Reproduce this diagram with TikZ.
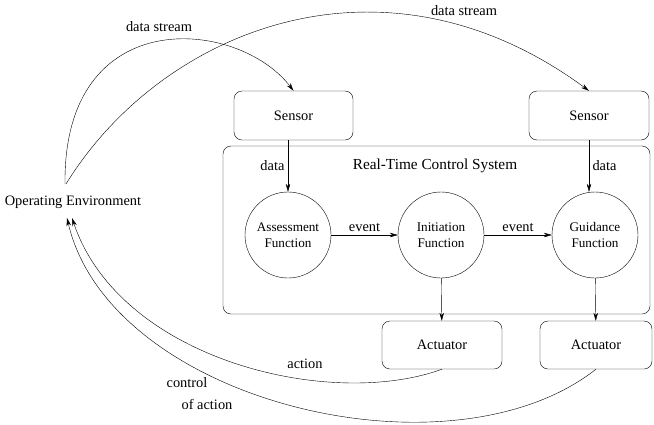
\documentclass[tikz,border=0pt]{standalone}
\usepackage{fontspec}
\setmainfont{Liberation Serif}
\usetikzlibrary{arrows.meta}

\tikzset{
	box/.style={draw, rounded corners=8pt, minimum height=48pt, inner sep=0pt},
	func/.style={draw, circle, minimum size=86pt, inner sep=0pt, align=center, font=\fontsize{13.2}{15.5}\selectfont},
	lbl/.style={font=\fontsize{14.4}{16}\selectfont},
}

\begin{document}
\begin{tikzpicture}[x=1pt,y=-1pt,>={Stealth[length=8pt,width=4.5pt,inset=2.5pt]}]
		\useasboundingbox (0,0) rectangle (654,424);

		% control system frame
		\node[draw, rounded corners=8pt, minimum width=427pt, minimum height=168pt] (sys) at (436.5,230) {};
		\node[lbl, font=\fontsize{15.3}{17}\selectfont] (systitle) at (435,166) {Real-Time Control System};

		\node[box, lbl, minimum width=119pt, minimum height=49pt] (sensorA) at (293.5,115.5) {Sensor};
		\node[box, lbl, minimum width=120pt, minimum height=49pt] (sensorB) at (589,115.5) {Sensor};

		\node[func] (assess) at (288,235) {Assessment\\Function};
		\node[func] (init) at (441,235) {Initiation\\Function};
		\node[func] (guide) at (595,235) {Guidance\\Function};

		\node[box, lbl, minimum width=120pt] (actA) at (442,345) {Actuator};
		\node[box, lbl, minimum width=112pt] (actB) at (596,345) {Actuator};

		\node[lbl] (env) at (73,202) {Operating Environment};
		\coordinate (envin) at (65,184);
		\coordinate (envin2) at (66,184);
		\coordinate (envact) at (72,218);
		\coordinate (envctl) at (67,218);

		% sensor data into the system
		\draw[->] (assess |- sensorA.south) -- node[lbl, left] {data} (assess.north);
		\draw[->] (sensorB.south) -- node[lbl, right] {data} (sensorB.south |- guide.north);

		\draw[->] (assess) -- node[lbl, above] {event} (init);
		\draw[->] (init) -- node[lbl, above] {event} (guide);

		\draw[->] (init) -- (actA);
		\draw[->] (guide) -- (actB);

		% streams from the environment
		\draw[->] (envin) .. controls (63,2) and (238,18) .. (sensorA.north);
		\node[lbl] (streamA) at (159,27) {data stream};
		\draw[->] (envin2) .. controls (161,30) and (383,-61) .. (sensorB.north);
		\node[lbl] (streamB) at (464,11) {data stream};

		% actions back to the environment
		\draw[->] (actA.south) .. controls (330,410) and (120,360) .. (envact);
		\node[lbl] (actlbl) at (305,364) {action};
		\draw[->] (actB.south) .. controls (450,484) and (110,402) .. (envctl);
		\node[lbl] (ctllbl) at (187,383) {control};
		\node[lbl] (ctllbl2) at (207,404) {of action};
\end{tikzpicture}
\end{document}
